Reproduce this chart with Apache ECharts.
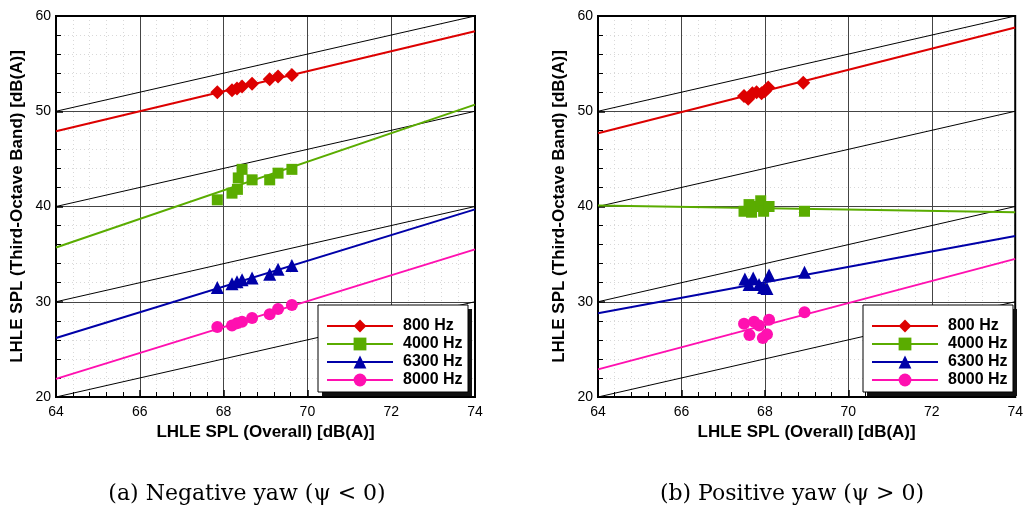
<!DOCTYPE html>
<html>
<head>
<meta charset="utf-8">
<script src="https://cdn.jsdelivr.net/npm/echarts@6/dist/echarts.min.js"></script>
<style>
html,body{margin:0;padding:0;background:#fff;}
#c{width:1026px;height:512px;}
</style>
</head>
<body>
<div id="c"></div>
<script>
// ---------- data ----------
const seriesNames = ['800 Hz', '4000 Hz', '6300 Hz', '8000 Hz'];
const xTicks = [64, 66, 68, 70, 72, 74];
const yTicks = [20, 30, 40, 50, 60];
const captions = ['(a) Negative yaw (\u03c8 < 0)', '(b) Positive yaw (\u03c8 > 0)'];
const xTitle = 'LHLE SPL (Overall) [dB(A)]';
const yTitle = 'LHLE SPL (Third-Octave Band) [dB(A)]';

// reference lines (slope 1), endpoints
const refLines = [
  [[64, 50], [74, 60]],
  [[64, 40], [74, 50]],
  [[64, 30], [74, 40]],
  [[64, 20], [74, 30]]
];

// (a) negative yaw
const negX = [67.85, 68.2, 68.32, 68.44, 68.68, 69.1, 69.3, 69.63];
const neg800 = [52.0, 52.2, 52.4, 52.6, 52.9, 53.35, 53.65, 53.8];
const negX4000 = [67.85, 68.2, 68.33, 68.35, 68.44, 68.68, 69.1, 69.3, 69.63];
const neg4000 = [40.7, 41.4, 41.8, 43.0, 43.9, 42.8, 42.8, 43.5, 43.9];
const neg6300 = [31.5, 31.9, 32.1, 32.3, 32.5, 32.9, 33.4, 33.8];
const neg8000 = [27.35, 27.5, 27.75, 27.9, 28.3, 28.7, 29.25, 29.65];
const negFit800 = [[64, 47.9], [74, 58.4]];
const negFit4000 = [[64, 35.7], [74, 50.7]];
const negFit6300 = [[64, 26.2], [74, 39.7]];
const negFit8000 = [[64, 21.9], [74, 35.5]];

// (b) positive yaw
const posX800 = [67.5, 67.6, 67.7, 67.8, 67.92, 68.0, 68.08, 68.92];
const pos800 = [51.6, 51.3, 51.9, 52.0, 51.9, 52.1, 52.5, 53.0];
const posX4000 = [67.5, 67.62, 67.68, 67.8, 67.9, 67.97, 68.1, 68.95];
const pos4000 = [39.5, 40.2, 39.4, 40.0, 40.6, 39.5, 40.0, 39.5];
const posX6300 = [67.52, 67.62, 67.72, 67.86, 67.97, 68.05, 68.1, 68.95];
const pos6300 = [32.4, 31.8, 32.5, 31.8, 31.5, 31.4, 32.8, 33.1];
const posX8000 = [67.5, 67.63, 67.74, 67.86, 67.95, 68.05, 68.1, 68.95];
const pos8000 = [27.7, 26.5, 27.9, 27.5, 26.2, 26.6, 28.1, 28.9];
const posFit800 = [[64, 47.7], [74, 58.8]];
const posFit4000 = [[64, 40.1], [74, 39.4]];
const posFit6300 = [[64, 28.8], [74, 36.9]];
const posFit8000 = [[64, 22.9], [74, 34.5]];

// ---------- styling ----------
const colors = ['#dd0000', '#5aac00', '#0000a8', '#ff10b0'];
const symbols = ['diamond', 'rect', 'triangle', 'circle'];
const symbolSizes = [14, 11, 13, 12];

const zip = (xs, ys) => ys.map((y, i) => [xs[i], y]);

const panels = [
  { left: 56, width: 419, pts: [zip(negX, neg800), zip(negX4000, neg4000), zip(negX, neg6300), zip(negX, neg8000)],
    fits: [negFit800, negFit4000, negFit6300, negFit8000], legLeft: 318, capX: 247 },
  { left: 598, width: 420, pts: [zip(posX800, pos800), zip(posX4000, pos4000), zip(posX6300, pos6300), zip(posX8000, pos8000)],
    fits: [posFit800, posFit4000, posFit6300, posFit8000], legLeft: 863, capX: 792 }
];

const grids = [], xAxes = [], yAxes = [], seriesList = [], legends = [], graphics = [];
const gridTop = 16, gridHeight = 381;
const legW = 150, legH = 87, legTop = 305;

panels.forEach((p, gi) => {
  grids.push({ left: p.left, top: gridTop, width: p.width, height: gridHeight, show: true,
    borderColor: '#000', borderWidth: 2, backgroundColor: 'transparent', z: 3 });
  xAxes.push({
    gridIndex: gi, type: 'value', min: xTicks[0], max: xTicks[xTicks.length - 1], interval: 2,
    name: xTitle, nameLocation: 'middle', nameGap: 27,
    nameTextStyle: { fontFamily: 'Liberation Sans', fontWeight: 'bold', fontSize: 17, color: '#000' },
    axisLine: { show: true, lineStyle: { color: '#000', width: 2 } },
    axisTick: { show: true, inside: true, length: 7, lineStyle: { color: '#000', width: 1.5 } },
    minorTick: { show: true, splitNumber: 5, length: 5, lineStyle: { color: '#000', width: 1 } },
    axisLabel: { fontFamily: 'Liberation Sans', fontSize: 14, color: '#000', margin: 8 },
    splitLine: { show: true, lineStyle: { color: '#444', width: 1 } },
    minorSplitLine: { show: true, lineStyle: { color: '#d8d8d8', width: 1, type: [1, 3] } }
  });
  yAxes.push({
    gridIndex: gi, type: 'value', min: yTicks[0], max: yTicks[yTicks.length - 1], interval: 10,
    name: yTitle, nameLocation: 'middle', nameGap: 30, nameRotate: 90,
    nameTextStyle: { fontFamily: 'Liberation Sans', fontWeight: 'bold', fontSize: 17, color: '#000' },
    axisLine: { show: true, lineStyle: { color: '#000', width: 2 } },
    axisTick: { show: true, inside: true, length: 7, lineStyle: { color: '#000', width: 1.5 } },
    minorTick: { show: true, splitNumber: 5, length: 5, lineStyle: { color: '#000', width: 1 } },
    axisLabel: { fontFamily: 'Liberation Sans', fontSize: 14, color: '#000', margin: 5 },
    splitLine: { show: true, lineStyle: { color: '#444', width: 1 } },
    minorSplitLine: { show: true, lineStyle: { color: '#d8d8d8', width: 1, type: [1, 3] } }
  });
  refLines.forEach((rl, ri) => {
    seriesList.push({ type: 'line', name: 'ref' + gi + '_' + ri, xAxisIndex: gi, yAxisIndex: gi,
      data: rl, showSymbol: false, symbol: 'none', silent: true, clip: true,
      lineStyle: { color: '#000', width: 1 }, z: 2 });
  });
  seriesNames.forEach((nm, si) => {
    seriesList.push({ type: 'line', name: nm, xAxisIndex: gi, yAxisIndex: gi,
      data: p.fits[si], symbol: symbols[si], symbolSize: symbolSizes[si], showSymbol: false,
      clip: true, color: colors[si], lineStyle: { color: colors[si], width: 2 },
      itemStyle: { color: colors[si] }, z: 4 });
    seriesList.push({ type: 'scatter', name: nm + ' pts' + gi, xAxisIndex: gi, yAxisIndex: gi,
      data: p.pts[si], symbol: symbols[si], symbolSize: symbolSizes[si],
      itemStyle: { color: colors[si], opacity: 1 }, z: 5 });
  });
  // legend frame with solid drop shadow
  graphics.push({ type: 'rect', z: 6, shape: { x: p.legLeft + 4, y: legTop + 4, width: legW, height: legH },
    style: { fill: '#111' } });
  graphics.push({ type: 'rect', z: 7, shape: { x: p.legLeft, y: legTop, width: legW, height: legH },
    style: { fill: '#fff', stroke: '#000', lineWidth: 1 } });
  legends.push({
    data: seriesNames, left: p.legLeft, top: legTop, orient: 'vertical',
    itemWidth: 66, itemHeight: 16, itemGap: 2, padding: [13, 8, 8, 8],
    textStyle: { fontFamily: 'Liberation Sans', fontWeight: 'bold', fontSize: 16, color: '#000',
      padding: [0, 0, 0, 5] },
    selectedMode: false, z: 10
  });
  graphics.push({ type: 'text', x: p.capX, y: 494, z: 20,
    style: { text: captions[gi], textAlign: 'center', textVerticalAlign: 'middle',
      font: '22px "DejaVu Serif"', fill: '#000' } });
});

const chart = echarts.init(document.getElementById('c'), null, { renderer: 'canvas' });
chart.setOption({
  animation: false,
  backgroundColor: '#fff',
  grid: grids, xAxis: xAxes, yAxis: yAxes, series: seriesList, legend: legends,
  graphic: graphics
});
</script>
</body>
</html>
